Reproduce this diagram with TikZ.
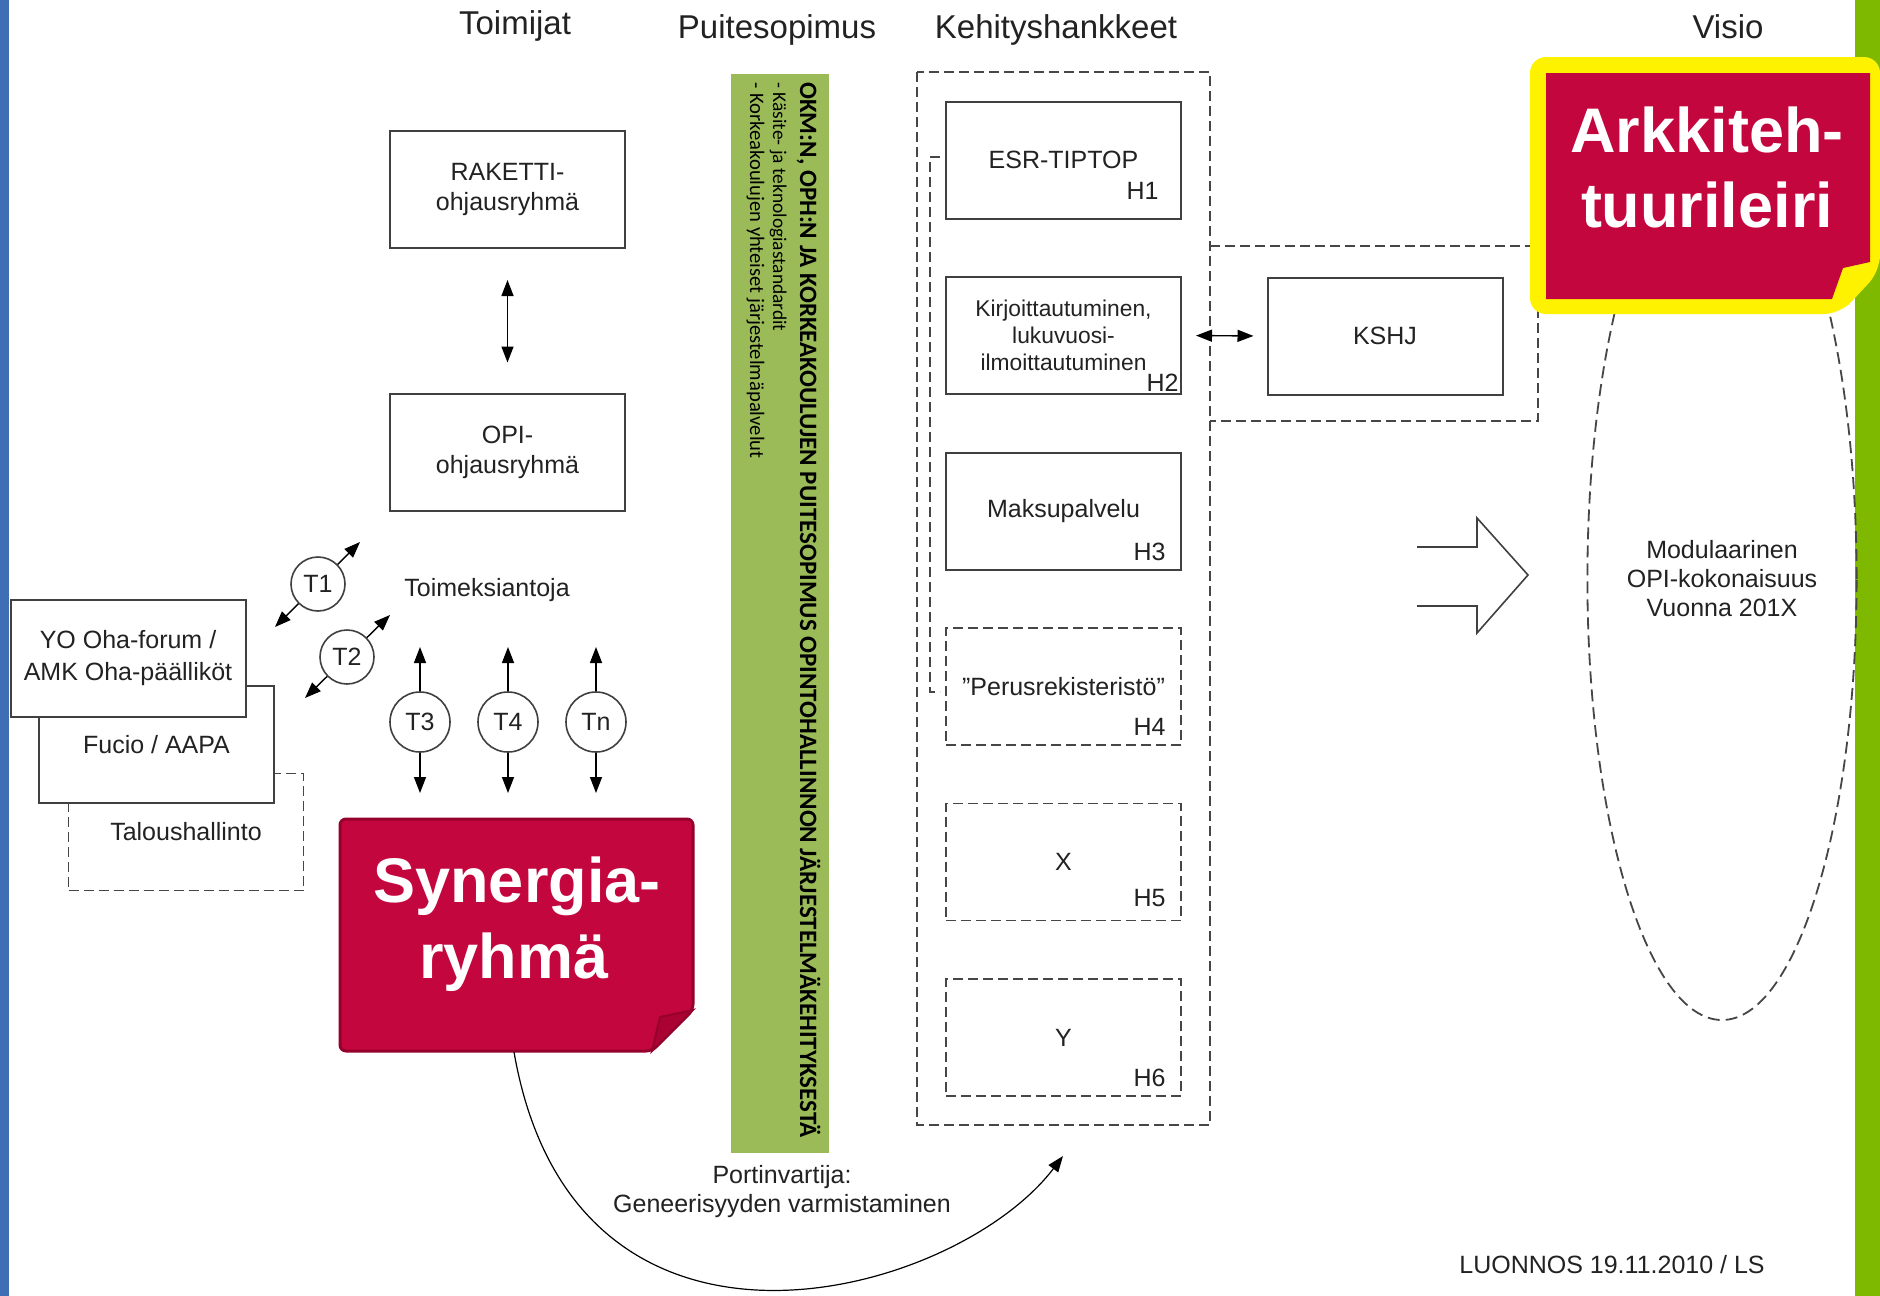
\documentclass[tikz,border=0pt]{standalone}
\usepackage{fontspec}
\setmainfont{Liberation Sans}
\newfontfamily\barfont{Carlito}
\usetikzlibrary{arrows.meta,shapes.geometric}
\definecolor{bluebar}{RGB}{62,110,180}
\definecolor{greenbar}{RGB}{126,185,0}
\definecolor{olivebar}{RGB}{155,187,89}
\definecolor{crim}{RGB}{196,6,62}
\definecolor{crimdark}{RGB}{150,0,45}
\definecolor{crimfold}{RGB}{170,2,50}
\definecolor{boxline}{RGB}{64,64,64}
\definecolor{dashline}{RGB}{70,70,70}
\definecolor{txt}{RGB}{34,34,34}
\begin{document}
\begin{tikzpicture}[x=0.5pt,y=-0.5pt,
  every node/.style={text=txt, inner sep=0pt, font=\fontsize{12.5}{14.5}\selectfont},
  solidbox/.style={draw=boxline, line width=1pt, fill=white, minimum width=117.5pt, minimum height=58.5pt, align=center},
  dashbox/.style={solidbox, draw=dashline, line width=0.9pt, dash pattern=on 5pt off 2.5pt},
  dashline/.style={draw=dashline, line width=0.9pt, dash pattern=on 5pt off 2.5pt},
  hdr/.style={font=\fontsize{16.5}{19}\selectfont, anchor=base},
  tcirc/.style={circle, draw=boxline, line width=0.8pt, fill=white, minimum size=#1},
  dbl/.style={{Triangle[length=8pt,width=6pt]}-{Triangle[length=8pt,width=6pt]}, line width=0.7pt, black},
  bigtxt/.style={text=white, font=\fontsize{31.5}{38}\selectfont\bfseries, anchor=base},
  hlab/.style={anchor=base east},
]
\fill[white] (0,0) rectangle (1880,1296);
\useasboundingbox (0,0) rectangle (1880,1296);
% side bars
\fill[bluebar] (0,0) rectangle (9,1296);
\fill[greenbar] (1855,0) rectangle (1880,1296);
% headers
\node[hdr] (hToim) at (515,34) {Toimijat};
\node[hdr] (hPuite) at (777,38) {Puitesopimus};
\node[hdr] (hKeh) at (1056,38) {Kehityshankkeet};
\node[hdr] (hVisio) at (1728,38) {Visio};
% Puitesopimus bar
\fill[olivebar] (731,74) rectangle (829,1153);
\node[rotate=-90, anchor=base west, text=black] (okm) at (800,82) {\resizebox{527.5pt}{!}{\barfont\bfseries OKM:N, OPH:N JA KORKEAKOULUJEN PUITESOPIMUS OPINTOHALLINNON JÄRJESTELMÄKEHITYKSESTÄ}};
\node[rotate=-90, anchor=base west, text=black] (std) at (773,82) {\barfont\fontsize{9.7}{11}\selectfont - Käsite- ja teknologiastandardit};
\node[rotate=-90, anchor=base west, text=black] (yht) at (750,82) {\resizebox{188pt}{!}{\barfont\fontsize{9.7}{11}\selectfont - Korkeakoulujen yhteiset järjestelmäpalvelut}};
% Kehityshankkeet frames
\draw[dashline] (917,72) rectangle (1210,1125);
\draw[dashline] (1210,246) -- (1538,246) -- (1538,421) -- (1210,421);
\draw[dashline] (940,157) -- (930,157) -- (930,692) -- (940,692);
% H boxes
\node[solidbox] (h1) at (1063.5,160) {ESR-TIPTOP};
\node[solidbox, font=\fontsize{11.4}{13.5}\selectfont] (h2) at (1063.5,335.5) {Kirjoittautuminen,\\lukuvuosi-\\ilmoittautuminen};
\node[solidbox] (h3) at (1063.5,511) {Maksupalvelu};
\node[dashbox] (h4) at (1063.5,686.5) {”Perusrekisteristö”};
\node[dashbox] (h5) at (1063.5,862) {X};
\node[dashbox] (h6) at (1063.5,1037.5) {Y};
\path (h1.south east) ++(-23,-20) node[hlab] (l1) {H1};
\path (h2.south east) ++(-3,-4) node[hlab] (l2) {H2};
\path (h3.south east) ++(-16,-10) node[hlab] (l3) {H3};
\path (h4.south east) ++(-16,-10) node[hlab] (l4) {H4};
\path (h5.south east) ++(-16,-15) node[hlab] (l5) {H5};
\path (h6.south east) ++(-16,-10) node[hlab] (l6) {H6};
% KSHJ
\node[solidbox] (kshj) at (1385,336) {KSHJ};
\draw[dbl, shorten <=7pt, shorten >=6.5pt] (h2.east) -- (kshj.west);
% big hollow arrow
\draw[boxline, line width=0.8pt] (1417,547) -- (1477,547) -- (1477,518) -- (1528,575) -- (1477,633) -- (1477,606) -- (1417,606);
% vision ellipse
\node[ellipse, draw=dashline, line width=0.9pt, dash pattern=on 6pt off 3pt, minimum width=131pt, minimum height=441pt, align=center] (visio) at (1722,579) {Modulaarinen\\OPI-kokonaisuus\\Vuonna 201X};
% Arkkitehtuurileiri note
\fill[yellow, rounded corners=8] (1880,271) -- (1840,314) -- (1530,314) -- (1530,57) -- (1880,57) -- cycle;
\fill[crim] (1546,73) -- (1870,73) -- (1870,262) -- (1843,268) -- (1832,299) -- (1546,299) -- cycle;
\node[bigtxt] (ark1) at (1707,152) {Arkkiteh-};
\node[bigtxt] (ark2) at (1707,227) {tuurileiri};
% left actors
\node[dashbox] (talous) at (186,832) {Taloushallinto};
\node[solidbox] (fucio) at (156.5,744.5) {Fucio / AAPA};
\node[solidbox, font=\fontsize{12.5}{16}\selectfont] (yo) at (128,658) {YO Oha-forum /\\AMK Oha-päälliköt};
\node[solidbox, font=\fontsize{12.5}{15}\selectfont] (raketti) at (507.5,189.5) {RAKETTI-\\ohjausryhmä};
\node[solidbox, font=\fontsize{12.5}{15}\selectfont] (opi) at (507.5,452) {OPI-\\ohjausryhmä};
\draw[dbl, shorten <=15.5pt, shorten >=15pt] (raketti.south) -- (opi.north);
% T assignments
\coordinate (t1a) at (275,627); \coordinate (t1b) at (360,542);
\coordinate (t2a) at (305,698); \coordinate (t2b) at (390,615);
\coordinate (t3a) at (420,647); \coordinate (t3b) at (420,793);
\coordinate (t4a) at (508,647); \coordinate (t4b) at (508,793);
\coordinate (tna) at (596,647); \coordinate (tnb) at (596,793);
\draw[dbl] (t1a) -- (t1b);
\draw[dbl] (t2a) -- (t2b);
\draw[dbl] (t3a) -- (t3b);
\draw[dbl] (t4a) -- (t4b);
\draw[dbl] (tna) -- (tnb);
\node[tcirc=27pt] (t1) at (318,584) {T1};
\node[tcirc=27pt] (t2) at (347,657) {T2};
\node[tcirc=30pt] (t3) at (420,722) {T3};
\node[tcirc=30pt] (t4) at (508,722) {T4};
\node[tcirc=30pt] (tn) at (596,722) {Tn};
\node (toim) at (487,590) {Toimeksiantoja};
% Synergiaryhma note
\filldraw[fill=crim, draw=crimdark, line width=1.5pt, rounded corners=3] (340,819) -- (693,819) -- (693,1010) -- (652,1051) -- (340,1051) -- cycle;
\filldraw[fill=crimfold, draw=crimdark, line width=1pt] (693,1010) -- (660,1017) -- (652,1051) -- cycle;
\node[bigtxt] (syn1) at (517,902) {Synergia-};
\node[bigtxt] (syn2) at (514,978) {ryhmä};
\coordinate (synb) at (514,1052);
\coordinate (kehend) at (1063,1156);
\draw[-{Triangle[length=8pt,width=6pt]}, line width=0.6pt, black] (synb) .. controls (575,1403) and (955,1298) .. (kehend);
\node[align=center] (port) at (782,1192) {Portinvartija:\\Geneerisyyden varmistaminen};
\node (luon) at (1612,1265) {LUONNOS 19.11.2010 / LS};
\end{tikzpicture}
\end{document}
